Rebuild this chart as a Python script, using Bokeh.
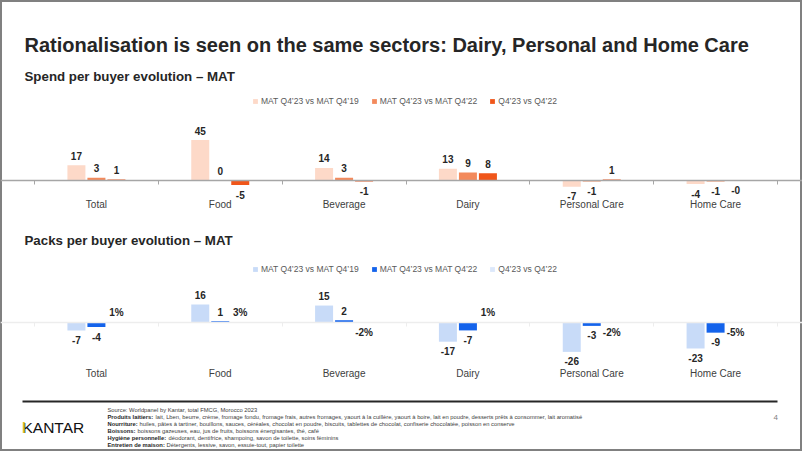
import numpy as np
from bokeh.plotting import figure
from bokeh.models import ColumnDataSource, Range1d, LinearAxis, FixedTicker, Legend, LegendItem
from bokeh.transform import dodge
from bokeh.core.properties import value
from bokeh.embed import file_html
from bokeh.resources import INLINE

# ---------------- data ----------------
categories = ["Total", "Food", "Beverage", "Dairy", "Personal Care", "Home Care"]
series_labels = ["MAT Q4\u201923 vs MAT Q4\u201919", "MAT Q4\u201923 vs MAT Q4\u201922", "Q4\u201923 vs Q4\u201922"]

spend_mat_vs_19 = [17, 45, 14, 13, -7, -4]
spend_mat_vs_22 = [3, 0, 3, 9, -1, -1]
spend_q4_vs_22 = [1, -5, -1, 8, 1, -0.3]

packs_mat_vs_19 = [-7, 16, 15, -17, -26, -23]
packs_mat_vs_22 = [-4, 1, 2, -7, -3, -9]
packs_q4_vs_22 = [0.01, 0.03, -0.02, 0.01, -0.02, -0.05]

spend_colors = ["#FDD9C8", "#F38A5C", "#F0561A"]
packs_colors = ["#C8DBF8", "#1463EB", "#DCE8FB"]

title_text = "Rationalisation is seen on the same sectors: Dairy, Personal and Home Care"
subtitle_spend = "Spend per buyer evolution \u2013 MAT"
subtitle_packs = "Packs per buyer evolution \u2013 MAT"

footer_source = "Source: Worldpanel by Kantar, total FMCG, Morocco 2023"
footer_bold = ["Produits laitiers:", "Nourriture:", "Boissons:", "Hygi\u00e8ne personnelle:", "Entretien de maison:"]
footer_text = [
    " lait, Lben, beurre, cr\u00e8me, fromage fondu, fromage frais, autres fromages, yaourt \u00e0 la cuill\u00e8re, yaourt \u00e0 boire, lait en poudre, desserts pr\u00eats \u00e0 consommer, lait aromatis\u00e9",
    " huiles, p\u00e2tes \u00e0 tartiner, bouillons, sauces, c\u00e9r\u00e9ales, chocolat en poudre, biscuits, tablettes de chocolat, confiserie chocolat\u00e9e, poisson en conserve",
    " boissons gazeuses, eau, jus de fruits, boissons \u00e9nergisantes, th\u00e9, caf\u00e9",
    " d\u00e9odorant, dentifrice, shampoing, savon de toilette, soins f\u00e9minins",
    "  D\u00e9tergents, lessive, savon, essuie-tout, papier toilette",
]
footer_bold_widths = [48, 32, 30, 61, 59]
page_number = "4"

# ---------------- figure ----------------
W, H = 802, 451
FONT = "Liberation Sans"

p = figure(width=W, height=H, output_backend="svg", toolbar_location=None, tools="",
           x_range=Range1d(0, W), y_range=Range1d(H, 0),
           x_axis_location=None, y_axis_location=None)
p.min_border_left = 0
p.min_border_right = 0
p.min_border_top = 0
p.min_border_bottom = 0
p.outline_line_color = "#808080"
p.outline_line_width = 3
p.background_fill_color = "white"
p.border_fill_color = "white"
p.grid.visible = False

axis_left, axis_right = 34, 777
cat_px = (axis_right - axis_left) / 6.0
p.extra_x_ranges = {"cat": Range1d(-0.5 - axis_left / cat_px, 5.5 + (W - axis_right) / cat_px)}
spend_base, spend_scale = 180, 0.9
packs_base, packs_scale = 322, 1.13
p.extra_y_ranges = {
    "spend": Range1d(-(H - spend_base) / spend_scale, spend_base / spend_scale),
    "packs": Range1d(-(H - packs_base) / packs_scale, packs_base / packs_scale),
}

bar_w = 18 / cat_px
offsets = [-20 / cat_px, 0.0, 20 / cat_px]


def draw_chart(yname, series, colors, labels_fmt, legend_bottom, axis_color, label_standoff):
    renderers = []
    for k, (vals, color) in enumerate(zip(series, colors)):
        vals = list(vals)
        src = ColumnDataSource(dict(
            x=list(range(len(categories))),
            v=vals,
            lab=[labels_fmt[k](v) for v in vals],
            yoff=[-9.5 if v >= 0 else 9.5 for v in vals],
        ))
        r = p.vbar(x=dodge("x", offsets[k]), top="v", bottom=0, width=bar_w, source=src,
                   x_range_name="cat", y_range_name=yname, fill_color=color, line_color=None)
        p.text(x=dodge("x", offsets[k]), y="v", text="lab", source=src,
               x_range_name="cat", y_range_name=yname, text_align="center",
               text_baseline="alphabetic", y_offset="yoff", text_font=value(FONT),
               text_font_style="bold", text_font_size="10px", text_color="#262626")
        renderers.append(r)

    bounds = [i - 0.5 for i in range(len(categories) + 1)]
    tick_axis = LinearAxis(x_range_name="cat", y_range_name=yname, fixed_location=0,
                           ticker=FixedTicker(ticks=bounds),
                           major_label_overrides={b: "" for b in bounds},
                           axis_line_color=axis_color, axis_line_width=1.5,
                           major_tick_line_color=axis_color,
                           major_tick_in=0, major_tick_out=4, minor_tick_line_color=None)
    p.add_layout(tick_axis, "below")
    lab_axis = LinearAxis(x_range_name="cat", y_range_name=yname, fixed_location=0,
                          ticker=FixedTicker(ticks=list(range(len(categories)))),
                          major_label_overrides={i: c for i, c in enumerate(categories)},
                          axis_line_color=None, major_tick_line_color=None,
                          major_tick_in=0, major_tick_out=0, minor_tick_line_color=None,
                          major_label_standoff=label_standoff, major_label_text_font_size="10px",
                          major_label_text_color="#404040", major_label_text_font=FONT)
    p.add_layout(lab_axis, "below")

    leg = Legend(items=[LegendItem(label=l, renderers=[r]) for l, r in zip(series_labels, renderers)],
                 location=(252, legend_bottom), orientation="horizontal", padding=0, margin=0,
                 spacing=12, glyph_width=6, glyph_height=6, label_standoff=3, label_height=10,
                 label_text_font_size="8.5px", label_text_color="#595959", label_text_font=FONT,
                 border_line_color=None, background_fill_alpha=0)
    p.add_layout(leg)


fmt_int = lambda v: f"{v:.0f}"
fmt_pct = lambda v: f"{v * 100:.0f}%"

draw_chart("spend", [spend_mat_vs_19, spend_mat_vs_22, spend_q4_vs_22], spend_colors,
           [fmt_int, fmt_int, fmt_int], 345, "#A6A6A6", 18)
draw_chart("packs", [packs_mat_vs_19, packs_mat_vs_22, packs_q4_vs_22], packs_colors,
           [fmt_int, fmt_int, fmt_pct], 177, "#EDEDED", 45)

# ---------------- titles ----------------
p.text(x=[24], y=[44], text=[title_text], text_font=value(FONT), text_font_style="bold",
       text_font_size="20px", text_color="#262626", text_baseline="middle")
p.text(x=[24, 24], y=[76, 240], text=[subtitle_spend, subtitle_packs], text_font=value(FONT),
       text_font_style="bold", text_font_size="13.3px", text_color="#262626", text_baseline="middle")

# ---------------- footer ----------------
p.line(x=[22, 777], y=[401, 401], line_color="#262626", line_width=2)
p.text(x=[22], y=[427], text=["KANTAR"], text_font=value(FONT), text_font_size="15.5px",
       text_color="#111111", text_baseline="middle")
p.quad(left=[22.2], right=[24.2], top=[421.5], bottom=[432.5], fill_color="#E3C31F", line_color=None)

line_y = [409.5 + 6.9 * i for i in range(6)]
p.text(x=[107], y=[line_y[0]], text=[footer_source], text_font=value(FONT), text_font_size="5.8px",
       text_color="#404040", text_baseline="middle")
p.text(x=[107] * 5, y=line_y[1:], text=footer_bold, text_font=value(FONT), text_font_style="bold",
       text_font_size="5.8px", text_color="#262626", text_baseline="middle")
p.text(x=[107 + w for w in footer_bold_widths], y=line_y[1:], text=footer_text, text_font=value(FONT),
       text_font_size="5.8px", text_color="#404040", text_baseline="middle")
p.text(x=[773], y=[417], text=[page_number], text_font=value(FONT), text_font_size="8px",
       text_color="#7F7F7F", text_baseline="middle")

open("out.html", "w").write(file_html(p, INLINE))
